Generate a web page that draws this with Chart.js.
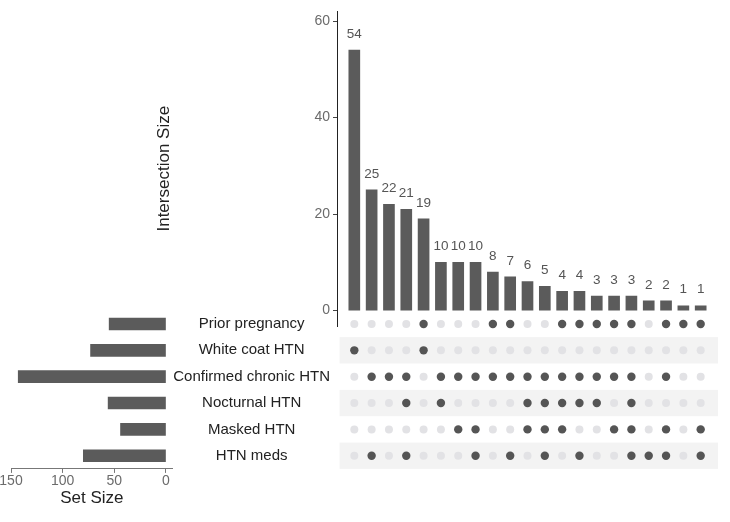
<!DOCTYPE html>
<html>
<head>
<meta charset="utf-8">
<script src="https://cdn.jsdelivr.net/npm/chart.js"></script>
<style>
  html, body { margin: 0; padding: 0; background: #fff; }
  #wrap { position: relative; width: 730px; height: 522px; overflow: hidden; }
  canvas { position: absolute; }
</style>
</head>
<body>
<div id="wrap">
  <canvas id="matrix" width="580" height="200" style="left:150px;top:290px"></canvas>
  <canvas id="sets" width="340" height="222" style="left:0;top:300px"></canvas>
  <canvas id="bars" width="580" height="340" style="left:150px;top:0"></canvas>
</div>
<script>
const setNames = ['Prior pregnancy', 'White coat HTN', 'Confirmed chronic HTN', 'Nocturnal HTN', 'Masked HTN', 'HTN meds'];
const setSizes = [55, 73, 143, 56, 44, 80];
const setSizeTicks = [0, 50, 100, 150];

const intersectionSizes = [54, 25, 22, 21, 19, 10, 10, 10, 8, 7, 6, 5, 4, 4, 3, 3, 3, 2, 2, 1, 1];
const intersectionTicks = [0, 20, 40, 60];
// which sets (index into setNames) make up each intersection column
const intersectionSets = [
  [1], [2, 5], [2], [2, 3, 5], [0, 1], [2, 3], [2, 4], [2, 4, 5], [0, 2], [0, 2, 5],
  [2, 3, 4], [2, 3, 4, 5], [0, 2, 3, 4], [0, 2, 3, 5], [0, 2, 3], [0, 2, 4], [0, 2, 3, 4, 5],
  [5], [0, 2, 4, 5], [0], [0, 4, 5]
];

const FONT = "'Liberation Sans', Arial, sans-serif";
Chart.defaults.font.family = FONT;
Chart.defaults.animation = false;
Chart.defaults.plugins.legend.display = false;
Chart.defaults.plugins.tooltip.enabled = false;

const barColor = '#5b5b5b';
const tickColor = '#6b6b6b';

// numbers above the intersection bars
const valueLabels = {
  id: 'valueLabels',
  afterDatasetsDraw(chart) {
    const ctx = chart.ctx;
    const meta = chart.getDatasetMeta(0);
    ctx.save();
    ctx.font = '13.5px ' + FONT;
    ctx.fillStyle = '#555';
    ctx.textAlign = 'center';
    ctx.textBaseline = 'middle';
    meta.data.forEach((bar, i) => ctx.fillText(intersectionSizes[i], bar.x, bar.y - 16));
    ctx.restore();
  }
};

// shaded rows behind the matrix
const bands = {
  id: 'bands',
  beforeDatasetsDraw(chart) {
    const { ctx, chartArea, scales: { x, y } } = chart;
    const left = x.getPixelForValue(0.15);
    ctx.save();
    ctx.fillStyle = '#f3f3f3';
    setNames.forEach((_, i) => {
      if (i % 2 === 1) {
        const top = y.getPixelForValue(i - 0.5);
        const bottom = y.getPixelForValue(i + 0.5);
        ctx.fillRect(left, top, chartArea.right - left, bottom - top);
      }
    });
    ctx.restore();
  }
};

new Chart(document.getElementById('bars'), {
  type: 'bar',
  data: {
    datasets: [{
      data: intersectionSizes.map((v, i) => ({ x: i + 1, y: v })),
      backgroundColor: barColor,
      barThickness: 11
    }]
  },
  options: {
    responsive: false,
    layout: { padding: { top: 11, bottom: 14, right: 12, left: 0 } },
    scales: {
      x: { type: 'linear', min: 0, max: 22, offset: false, display: false },
      y: {
        min: -3.2,
        max: 62,
        afterBuildTicks: s => { s.ticks = intersectionTicks.map(v => ({ value: v })); },
        afterFit: s => { s.width = 187; },
        ticks: { color: tickColor, font: { size: 14 }, padding: 3 },
        grid: { drawOnChartArea: false, drawTicks: true, tickLength: 4, color: '#444' },
        border: { display: true, color: '#222', width: 1 },
        title: { display: true, text: 'Intersection Size', color: '#222', font: { size: 17 } }
      }
    }
  },
  plugins: [valueLabels]
});

const inDots = [];
const outDots = [];
intersectionSets.forEach((members, c) => {
  setNames.forEach((_, r) => {
    (members.includes(r) ? inDots : outDots).push({ x: c + 1, y: r });
  });
});

new Chart(document.getElementById('matrix'), {
  type: 'scatter',
  data: {
    datasets: [
      { data: outDots, pointRadius: 4, backgroundColor: '#e2e2e5', borderWidth: 0 },
      { data: inDots, pointRadius: 4.2, backgroundColor: '#555', borderWidth: 0 }
    ]
  },
  options: {
    responsive: false,
    layout: { padding: { top: 20.8, bottom: 21.1, right: 12, left: 0 } },
    scales: {
      x: { type: 'linear', min: 0, max: 22, display: false },
      y: {
        type: 'linear',
        min: -0.5,
        max: 5.5,
        reverse: true,
        afterBuildTicks: s => { s.ticks = setNames.map((_, i) => ({ value: i })); },
        afterFit: s => { s.width = 187; },
        ticks: { callback: v => setNames[v], crossAlign: 'center', padding: 7, color: '#222', font: { size: 15 } },
        grid: { display: false, drawTicks: false },
        border: { display: false }
      }
    }
  },
  plugins: [bands]
});

new Chart(document.getElementById('sets'), {
  type: 'bar',
  data: {
    datasets: [{
      data: setSizes.map((v, i) => ({ x: v, y: i })),
      backgroundColor: barColor,
      barThickness: 12
    }]
  },
  options: {
    responsive: false,
    indexAxis: 'y',
    layout: { padding: { top: 10.8, left: 11, right: 167.3, bottom: 9.1 } },
    scales: {
      x: {
        type: 'linear',
        reverse: true,
        min: -6.5,
        max: 150,
        afterBuildTicks: s => { s.ticks = setSizeTicks.map(v => ({ value: v })); },
        afterFit: s => { s.height = 44; },
        ticks: { color: tickColor, font: { size: 14 }, padding: 0, maxRotation: 0 },
        grid: { drawOnChartArea: false, tickLength: 4, color: '#777' },
        border: { display: true, color: '#777' },
        title: { display: true, text: 'Set Size', color: '#222', font: { size: 17 }, padding: { top: -2, bottom: 4 } }
      },
      y: { type: 'linear', min: -0.5, max: 5.5, reverse: true, offset: false, display: false }
    }
  }
});
</script>
</body>
</html>
